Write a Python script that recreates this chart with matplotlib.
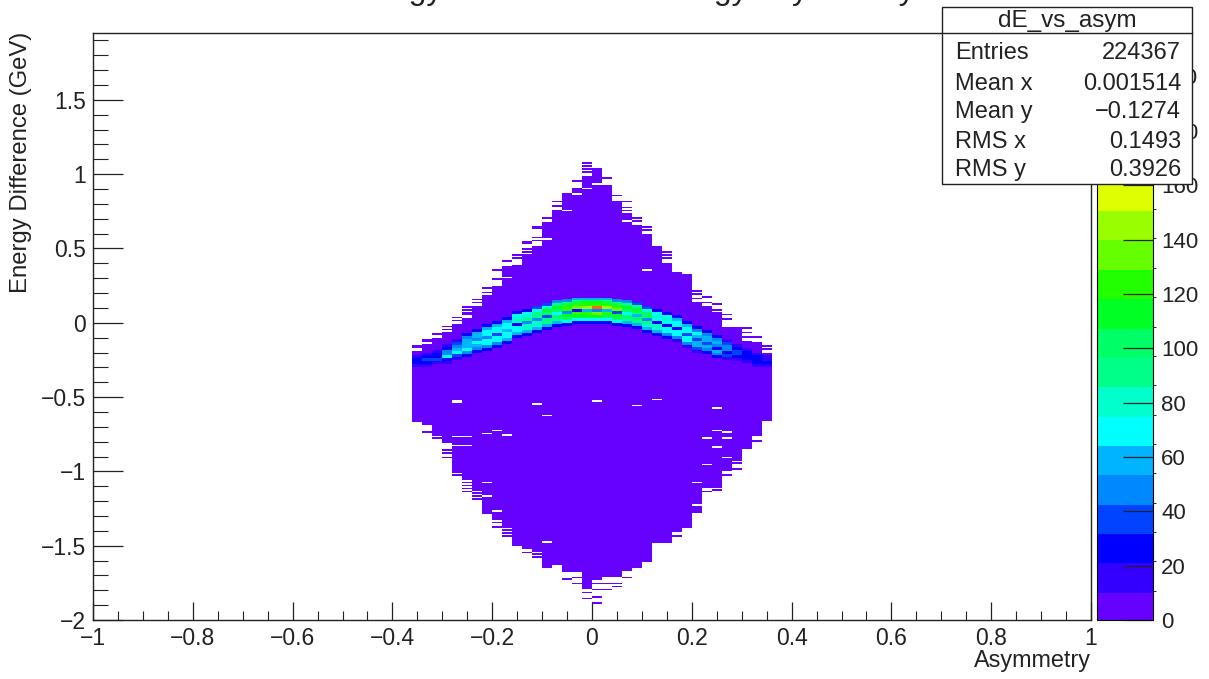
#!/usr/bin/env python3
"""dE_vs_asym: energy difference vs asymmetry 2D histogram, ROOT style."""

import numpy as np
import matplotlib
matplotlib.use("Agg")
import matplotlib.pyplot as plt
from matplotlib.colors import ListedColormap, BoundaryNorm
from matplotlib.patches import Rectangle
from matplotlib.ticker import MultipleLocator

plt.rcParams["font.family"] = ["Liberation Sans", "DejaVu Sans"]

W, H_PX = 1209, 679

# --- data ----------------------------------------------------------------------
# one entry per filled column, left edges from -0.36 in steps of 0.02
col_x = [-0.36, -0.34, -0.32, -0.30, -0.28, -0.26, -0.24, -0.22, -0.20, -0.18,
         -0.16, -0.14, -0.12, -0.10, -0.08, -0.06, -0.04, -0.02, 0.00, 0.02,
         0.04, 0.06, 0.08, 0.10, 0.12, 0.14, 0.16, 0.18, 0.20, 0.22,
         0.24, 0.26, 0.28, 0.30, 0.32, 0.34]
solid_top = [-0.19, -0.14, -0.10, -0.06, -0.01, 0.03, 0.11, 0.19, 0.25, 0.38,
             0.39, 0.46, 0.52, 0.68, 0.76, 0.87, 0.91, 0.99, 1.04, 0.93,
             0.82, 0.74, 0.66, 0.60, 0.52, 0.40, 0.34, 0.33, 0.14, 0.11,
             0.07, -0.03, -0.04, -0.12, -0.13, -0.20]
solid_bottom = [-0.67, -0.69, -0.755, -0.81, -1.01, -1.06, -1.125, -1.285, -1.33, -1.38,
                -1.50, -1.515, -1.54, -1.65, -1.63, -1.68, -1.68, -1.79, -1.73, -1.71,
                -1.71, -1.665, -1.65, -1.61, -1.48, -1.475, -1.41, -1.375, -1.28, -1.105,
                -1.11, -1.00, -0.925, -0.85, -0.755, -0.66]
body_count = 3

# isolated filled rows outside the solid part: column -> y values
sparse_cells = {
    -0.36: [-0.16, -0.17], -0.34: [-0.12, -0.13, -0.74], -0.32: [-0.08, -0.78],
    -0.30: [-0.03, -0.05, -0.86, -0.88, -0.91], -0.28: [0.03, 0.01, -1.03],
    -0.26: [0.10, 0.08, 0.06, 0.05, -1.08, -1.10, -1.12, -1.14],
    -0.24: [0.15, 0.13, -1.15, -1.17, -1.19], -0.22: [0.23, 0.20],
    -0.20: [0.35, 0.29, -1.35, -1.38], -0.18: [0.41, -1.40, -1.42, -1.44],
    -0.16: [0.45, 0.43], -0.14: [0.54, 0.53, 0.49, 0.47, -1.55],
    -0.12: [0.64, 0.63, 0.57, 0.55, -1.56, -1.58], -0.10: [0.70],
    -0.08: [0.81, 0.78], -0.06: [-1.73], -0.04: [0.95, -1.72, -1.76],
    -0.02: [1.07, 1.05, 1.03, 1.01, -1.82, -1.86],
    0.00: [-1.76, -1.80, -1.85, -1.89], 0.02: [0.97, -1.76, -1.80],
    0.04: [0.85, -1.76, -1.78], 0.06: [0.81, 0.77, 0.75, -1.72],
    0.08: [0.70, 0.68], 0.10: [0.64, 0.62], 0.14: [0.47, 0.45, 0.43],
    0.16: [-1.44], 0.20: [0.21, 0.19, 0.16], 0.22: [0.17, 0.13, -1.14],
    0.24: [0.12, 0.08, -1.13], 0.26: [0.05, 0.02, -1.03],
    0.28: [-0.035, -0.95, -0.99], 0.30: [-0.035, -0.07, -0.10],
    0.32: [-0.10, -0.80], 0.34: [-0.16, -0.18],
}
# empty rows inside the solid part
gap_cells = {
    -0.28: [-0.53, -0.54, -0.77, -0.83], -0.26: [-0.77, -0.83],
    -0.22: [-0.75, -1.08, -1.165], -0.20: [-0.73, -1.27], -0.18: [0.30, -0.755],
    -0.12: [-0.545], -0.10: [0.56, -0.625, -1.48], -0.06: [0.75], -0.04: [0.86],
    -0.02: [0.90], 0.00: [0.93, -0.53], 0.06: [0.68], 0.08: [-0.56],
    0.10: [0.355], 0.12: [-0.52], 0.20: [-1.08, -1.23, -1.29],
    0.22: [-0.78, -0.96], 0.24: [-0.58, -0.73, -0.84], 0.26: [-0.74, -0.78, -0.91],
}

# the bright band: y of its upper edge, then counts going down in 0.02 rows
band_top = [-0.22, -0.20, -0.18, -0.14, -0.11, -0.07, -0.04, -0.01, 0.01, 0.04,
            0.08, 0.09, 0.11, 0.13, 0.15, 0.165, 0.17, 0.175, 0.175, 0.17,
            0.16, 0.15, 0.14, 0.115, 0.09, 0.07, 0.05, 0.01, -0.02, -0.05,
            -0.08, -0.11, -0.14, -0.17, -0.20, -0.22]
band_counts = [
    [15, 25, 25, 15], [15, 30, 35, 25, 15], [15, 30, 30, 35, 20],
    [15, 30, 45, 45, 65, 30, 15], [20, 40, 50, 55, 70, 40, 20],
    [25, 50, 55, 55, 60, 65, 50, 25], [30, 55, 60, 50, 70, 60, 50, 25],
    [30, 55, 70, 75, 45, 75, 65, 50, 25], [30, 55, 65, 65, 40, 70, 65, 50, 25],
    [30, 60, 75, 75, 60, 70, 70, 55, 25], [30, 65, 80, 80, 30, 75, 75, 55, 25],
    [30, 70, 85, 90, 45, 85, 80, 55, 25], [35, 75, 90, 95, 50, 85, 80, 55, 25],
    [40, 85, 110, 105, 40, 95, 90, 60, 25], [45, 95, 115, 105, 70, 105, 95, 60, 25],
    [50, 100, 120, 120, 50, 110, 105, 65, 30], [55, 105, 125, 135, 30, 120, 110, 70, 30],
    [55, 110, 125, 150, 60, 125, 110, 70, 30], [55, 110, 125, 190, 45, 130, 115, 70, 30],
    [55, 105, 125, 150, 60, 125, 105, 70, 25], [50, 100, 120, 130, 35, 115, 105, 65, 25],
    [45, 95, 115, 105, 70, 105, 95, 60, 25], [40, 90, 110, 100, 60, 100, 90, 55, 25],
    [35, 80, 100, 100, 50, 95, 85, 55, 25], [30, 75, 85, 75, 30, 80, 80, 55, 25],
    [30, 70, 80, 70, 30, 75, 75, 50, 25], [30, 60, 70, 70, 30, 70, 70, 50, 20],
    [30, 55, 70, 65, 35, 70, 65, 45, 20], [25, 50, 65, 60, 35, 60, 60, 40, 20],
    [25, 50, 60, 60, 35, 55, 50, 25], [25, 45, 55, 50, 30, 55, 45, 25],
    [20, 35, 50, 45, 30, 40, 20], [15, 30, 40, 35, 30, 20],
    [15, 30, 30, 30, 20], [15, 25, 30, 25, 15], [12, 15, 25, 15],
]

palette = ["#6600ff", "#3300ff", "#0000ff", "#0044ff", "#0088ff", "#00b4ff", "#00ffff",
           "#00ffcc", "#00ff88", "#00ff66", "#00ff22", "#22ff00", "#66ff00", "#99ff00",
           "#ddff00", "#ffcc00", "#ff9900", "#ff6600", "#ff3300", "#ff0000"]
z_max = 216.0

stat_names = ["Entries", "Mean x", "Mean y", "RMS x", "RMS y"]
stat_values = ["224367", "0.001514", "\u22120.1274", "0.1493", "0.3926"]

# --- fill the histogram ---------------------------------------------------------
x_edges = np.linspace(-1, 1, 101)
y_edges = np.linspace(-2, 2, 401)
hist = np.full((400, 100), np.nan)


def row(y):
    return int(np.clip(np.floor((y + 2) / 0.01 + 1e-6), 0, 399))


def col(x):
    return int(round((x + 1) / 0.02))


for x, top, bot in zip(col_x, solid_top, solid_bottom):
    hist[row(bot):row(top), col(x)] = body_count
for x, ys in sparse_cells.items():
    for y in ys:
        hist[row(y), col(x)] = body_count
for x, ys in gap_cells.items():
    for y in ys:
        hist[row(y), col(x)] = np.nan
for x, top, counts in zip(col_x, band_top, band_counts):
    for k, c in enumerate(counts):
        r = row(top - 0.02 * k)
        hist[r - 2:r, col(x)] = c

# --- plot -----------------------------------------------------------------------
levels = np.linspace(0, z_max, len(palette) + 1)
cmap = ListedColormap(palette)
norm = BoundaryNorm(levels, cmap.N)

fig = plt.figure(figsize=(W / 100, H_PX / 100), dpi=100)
ax = fig.add_axes([93 / W, 1 - 620 / H_PX, 998 / W, 587 / H_PX])
mesh = ax.pcolormesh(x_edges, y_edges, np.ma.masked_invalid(hist), cmap=cmap, norm=norm,
                     rasterized=True)
ax.set_xlim(-1, 1)
ax.set_ylim(-2, 1.95)

ax.xaxis.set_minor_locator(MultipleLocator(0.05))
ax.yaxis.set_minor_locator(MultipleLocator(0.1))
ax.set_xticks(np.arange(-1, 1.01, 0.2))
ax.set_xticklabels(["\u22121", "\u22120.8", "\u22120.6", "\u22120.4", "\u22120.2", "0",
                    "0.2", "0.4", "0.6", "0.8", "1"])
ax.set_yticks(np.arange(-2, 1.6, 0.5))
ax.set_yticklabels(["\u22122", "\u22121.5", "\u22121", "\u22120.5", "0", "0.5", "1", "1.5"])
ax.tick_params(axis="x", which="major", direction="in", length=13, width=0.9,
               labelsize=16.5, pad=5, color="#222222", labelcolor="#222222")
ax.tick_params(axis="x", which="minor", direction="in", length=6.5, width=0.8, color="#222222")
ax.tick_params(axis="y", which="major", direction="in", length=21.6, width=0.9,
               labelsize=16.5, pad=5, color="#222222", labelcolor="#222222")
ax.tick_params(axis="y", which="minor", direction="in", length=10.8, width=0.8, color="#222222")
for s in ax.spines.values():
    s.set_linewidth(1.0)
    s.set_color("#222222")

fig.text(1091 / W, 1 - 661 / H_PX, "Asymmetry", ha="right", va="center", fontsize=16.8,
         color="#222222")
fig.text(21 / W, 1 - 32 / H_PX, "Energy Difference (GeV)", ha="center", va="top",
         rotation=90, fontsize=17.2, color="#222222")
# title sits mostly above the canvas in the source, only descenders show
fig.text(628 / W, 1 + 1 / H_PX, "Energy Difference vs Energy Asymmetry", ha="center",
         va="baseline", fontsize=23, color="#222222", clip_on=False)

# colour bar
cax = fig.add_axes([1097 / W, 1 - 620 / H_PX, 56 / W, 587 / H_PX])
cb = fig.colorbar(mesh, cax=cax, ticks=np.arange(0, 201, 20), spacing="proportional")
cb.solids.set_edgecolor("face")
cb.ax.tick_params(direction="in", length=21.6, width=0.9, labelsize=16, pad=6,
                  color="#222222", labelcolor="#222222")
cb.outline.set_linewidth(0.8)

# stats box, drawn over everything in figure pixels
box = dict(transform=fig.transFigure, zorder=10)
fig.add_artist(Rectangle((942 / W, 1 - 184 / H_PX), 250 / W, 177 / H_PX, facecolor="white",
                         edgecolor="#222222", linewidth=1.0, **box))
fig.add_artist(plt.Line2D([942 / W, 1192 / W], [1 - 33 / H_PX] * 2, color="#222222",
                          linewidth=1.0, **box))
fig.text(1067 / W, 1 - 21 / H_PX, "dE_vs_asym", ha="center", va="center", fontsize=17.5,
         color="#222222", zorder=11)
for name, val, py in zip(stat_names, stat_values, [53, 84, 112, 142, 170]):
    fig.text(955 / W, 1 - py / H_PX, name, ha="left", va="center", fontsize=17,
             color="#222222", zorder=11)
    fig.text(1181 / W, 1 - py / H_PX, val, ha="right", va="center", fontsize=17,
             color="#222222", zorder=11)

fig.savefig("out.png", dpi=100)
plt.close(fig)
